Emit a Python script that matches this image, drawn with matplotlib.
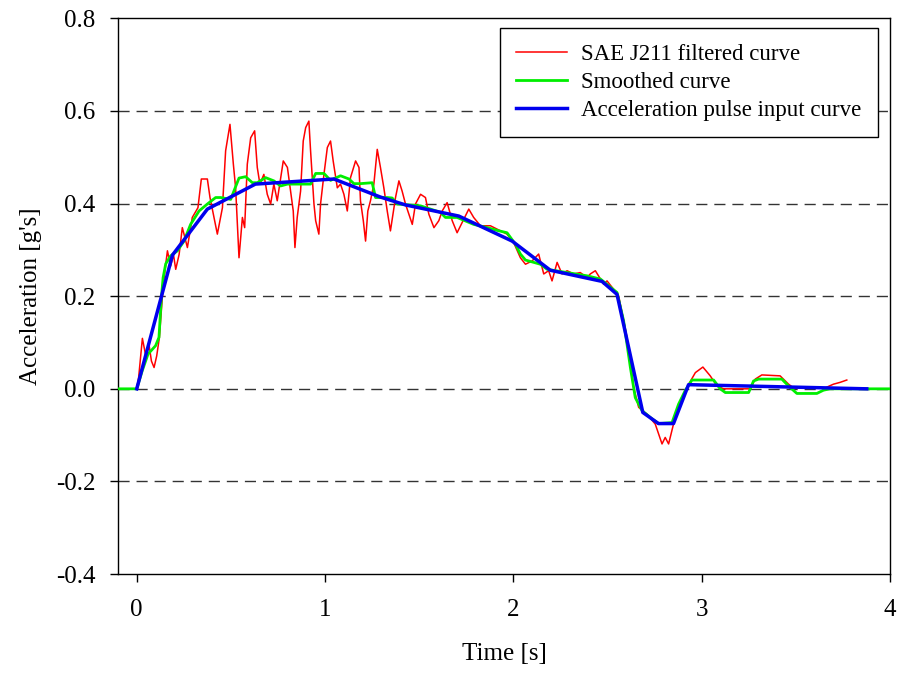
import numpy as np
import matplotlib
matplotlib.use('Agg')
import matplotlib.pyplot as plt

plt.rcParams['font.family'] = ['Liberation Serif', 'DejaVu Serif']

# SAE J211 filtered curve
t_raw = [-0.1, 0.0, 0.01, 0.03, 0.048, 0.065, 0.078, 0.092, 0.106, 0.12, 0.14, 0.154, 0.163,
         0.18, 0.195, 0.207, 0.225, 0.242, 0.251, 0.269, 0.295, 0.325, 0.343, 0.375, 0.389,
         0.41, 0.428, 0.455, 0.472, 0.495, 0.513, 0.525, 0.543, 0.561, 0.573, 0.587, 0.605,
         0.626, 0.64, 0.654, 0.675, 0.693, 0.711, 0.728, 0.746, 0.778, 0.8, 0.817, 0.831,
         0.84, 0.852, 0.87, 0.884, 0.897, 0.914, 0.923, 0.941, 0.95, 0.967, 0.976, 0.994,
         1.012, 1.029, 1.043, 1.065, 1.082, 1.1, 1.118, 1.135, 1.162, 1.18, 1.188, 1.203,
         1.215, 1.227, 1.241, 1.259, 1.277, 1.294, 1.312, 1.33, 1.347, 1.374, 1.392, 1.409,
         1.427, 1.445, 1.463, 1.48, 1.507, 1.533, 1.551, 1.578, 1.604, 1.622, 1.648, 1.675,
         1.701, 1.728, 1.763, 1.789, 1.825, 1.878, 1.931, 1.966, 2.001, 2.037, 2.064, 2.099,
         2.134, 2.161, 2.187, 2.205, 2.232, 2.258, 2.285, 2.32, 2.355, 2.391, 2.408, 2.435,
         2.462, 2.479, 2.497, 2.532, 2.559, 2.603, 2.638, 2.665, 2.709, 2.753, 2.789, 2.806,
         2.824, 2.85, 2.886, 2.921, 2.966, 3.006, 3.045, 3.081, 3.116, 3.257, 3.284, 3.319,
         3.416, 3.461, 3.487, 3.655, 3.699, 3.735, 3.77]
a_raw = [0.0, 0.0, 0.024, 0.109, 0.071, 0.096, 0.06, 0.046, 0.071, 0.11, 0.22, 0.269, 0.298,
         0.265, 0.29, 0.258, 0.29, 0.348, 0.334, 0.305, 0.37, 0.391, 0.453, 0.453, 0.413,
         0.37, 0.334, 0.391, 0.514, 0.571, 0.485, 0.434, 0.283, 0.37, 0.348, 0.485, 0.542,
         0.557, 0.478, 0.442, 0.463, 0.42, 0.399, 0.442, 0.406, 0.492, 0.478, 0.427, 0.384,
         0.305, 0.37, 0.427, 0.535, 0.564, 0.578, 0.514, 0.399, 0.363, 0.334, 0.399, 0.463,
         0.521, 0.535, 0.492, 0.434, 0.442, 0.42, 0.384, 0.456, 0.492, 0.478, 0.406, 0.363,
         0.319, 0.384, 0.406, 0.442, 0.517, 0.478, 0.434, 0.384, 0.341, 0.413, 0.449, 0.427,
         0.399, 0.377, 0.355, 0.399, 0.42, 0.413, 0.377, 0.348, 0.363, 0.384, 0.402, 0.363,
         0.337, 0.359, 0.388, 0.37, 0.352, 0.352, 0.341, 0.334, 0.316, 0.283, 0.269, 0.276,
         0.291, 0.248, 0.255, 0.233, 0.273, 0.248, 0.255, 0.248, 0.251, 0.24, 0.248, 0.255,
         0.237, 0.226, 0.233, 0.215, 0.2, 0.111, 0.003, -0.04, -0.055, -0.076, -0.119, -0.105,
         -0.119, -0.076, -0.026, 0.003, 0.035, 0.047, 0.028, 0.006, 0.0, 0.0, 0.021, 0.03,
         0.028, 0.01, 0.002, 0.002, 0.01, 0.014, 0.019]

# Smoothed curve
t_smooth = [-0.1, 0.0, 0.03, 0.06, 0.1, 0.118, 0.131, 0.14, 0.154, 0.18, 0.216, 0.251, 0.286,
            0.331, 0.375, 0.419, 0.446, 0.499, 0.516, 0.543, 0.578, 0.614, 0.64, 0.684, 0.728,
            0.764, 0.8, 0.923, 0.95, 0.994, 1.029, 1.082, 1.127, 1.153, 1.188, 1.25, 1.268,
            1.33, 1.356, 1.383, 1.507, 1.613, 1.639, 1.701, 1.789, 1.861, 1.914, 1.966, 2.011,
            2.037, 2.064, 2.143, 2.179, 2.285, 2.391, 2.462, 2.55, 2.585, 2.621, 2.647, 2.683,
            2.736, 2.771, 2.842, 2.877, 2.912, 2.948, 3.063, 3.098, 3.125, 3.249, 3.275, 3.302,
            3.425, 3.461, 3.505, 3.611, 3.646, 3.68, 4.0]
a_smooth = [0.0, 0.0, 0.04, 0.075, 0.093, 0.111, 0.197, 0.24, 0.27, 0.287, 0.298, 0.319, 0.355,
            0.384, 0.399, 0.413, 0.413, 0.409, 0.427, 0.455, 0.458, 0.445, 0.445, 0.456, 0.449,
            0.438, 0.442, 0.442, 0.465, 0.465, 0.45, 0.46, 0.453, 0.443, 0.443, 0.445, 0.413,
            0.413, 0.412, 0.399, 0.395, 0.381, 0.37, 0.37, 0.355, 0.348, 0.342, 0.337, 0.312,
            0.291, 0.278, 0.269, 0.258, 0.251, 0.244, 0.237, 0.208, 0.147, 0.046, -0.019, -0.047,
            -0.065, -0.075, -0.073, -0.033, -0.004, 0.019, 0.019, 0.0, -0.008, -0.008, 0.017, 0.021,
            0.021, 0.006, -0.01, -0.01, -0.003, 0.0, 0.0]

# Acceleration pulse input curve
t_pulse = [0.0, 0.19, 0.375, 0.63, 1.047, 1.294, 1.427, 1.71, 1.993, 2.196, 2.47, 2.55,
           2.687, 2.77, 2.85, 2.93, 3.876]
a_pulse = [0.0, 0.289, 0.388, 0.442, 0.453, 0.414, 0.397, 0.373, 0.319, 0.256, 0.232, 0.204,
           -0.051, -0.075, -0.075, 0.009, 0.0]

fig = plt.figure(figsize=(9, 6.77), dpi=100)
ax = fig.add_axes([0.131, 0.152, 0.858, 0.821])

for y in [-0.2, 0.0, 0.2, 0.4, 0.6]:
    ax.axhline(y, color='#333333', lw=1.0, dashes=(8, 5), zorder=1)

ax.plot(t_raw, a_raw, color='#ff0000', lw=1.1, label='SAE J211 filtered curve', zorder=2)
ax.plot(t_smooth, a_smooth, color='#00ee00', lw=2.0, label='Smoothed curve', zorder=3)
ax.plot(t_pulse, a_pulse, color='#0000ee', lw=2.5, label='Acceleration pulse input curve', zorder=4)

ax.set_xlim(-0.1, 4)
ax.set_ylim(-0.4, 0.8)
ax.set_xticks([0, 1, 2, 3, 4])
ax.set_yticks([-0.4, -0.2, 0.0, 0.2, 0.4, 0.6, 0.8])
ax.set_yticklabels(['-0.4', '-0.2', '0.0', '0.2', '0.4', '0.6', '0.8'])
ax.tick_params(direction='out', length=6, width=1, labelsize=18, colors='black')
ax.tick_params(axis='x', pad=12)
ax.tick_params(axis='y', pad=10)
for s in ax.spines.values():
    s.set_linewidth(1.0)
    s.set_color('black')

ax.set_xlabel('Time [s]', fontsize=18, labelpad=16)
ax.set_ylabel("Acceleration [g's]", fontsize=18, labelpad=10)

leg = ax.legend(loc='upper right', bbox_to_anchor=(0.984, 0.982), borderaxespad=0,
                fontsize=16.5, fancybox=False, framealpha=1, edgecolor='black',
                handlelength=2.2, handletextpad=0.65, borderpad=0.7, labelspacing=0.3)
leg.get_frame().set_linewidth(1.0)

fig.savefig('out.png', dpi=100)
